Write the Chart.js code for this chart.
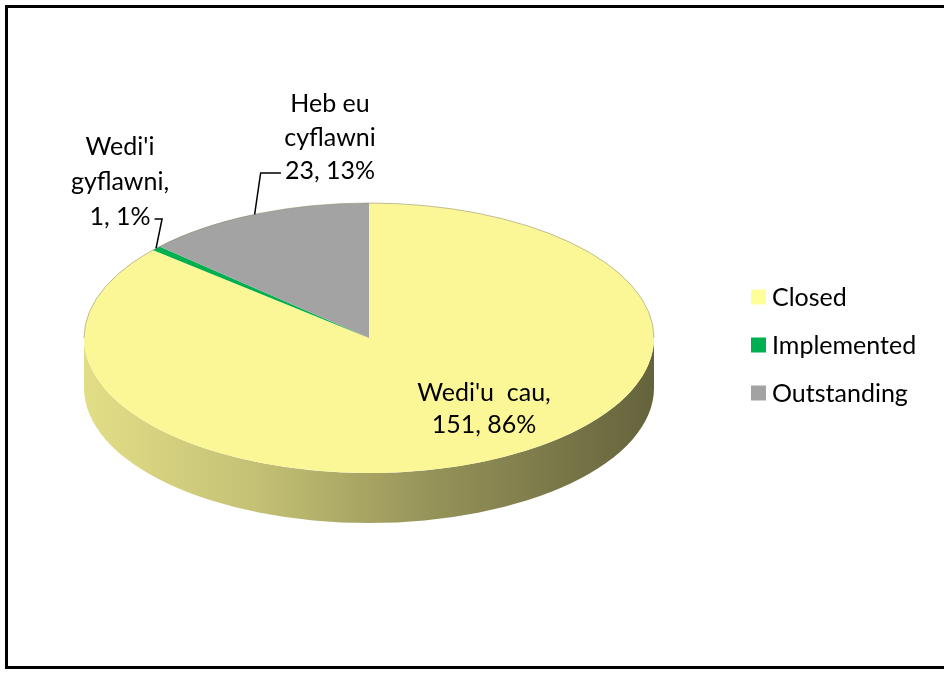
<!DOCTYPE html>
<html>
<head>
<meta charset="utf-8">
<script src="https://cdn.jsdelivr.net/npm/chart.js@4.4.1/dist/chart.umd.min.js"></script>
<style>
  html, body { margin: 0; padding: 0; background: #fff; }
  canvas { display: block; }
</style>
</head>
<body>
<canvas id="myChart" width="944" height="673"></canvas>
<script>
// data
const categories = ['Closed', 'Implemented', 'Outstanding'];
const welshNames = [["Wedi'u  cau,"], ["Wedi'i", "gyflawni,"], ["Heb eu", "cyflawni"]];
const counts = [151, 1, 23];
const colours = ['#FBF796', '#00B050', '#A3A3A3'];

// label placement (centre x, first line y, line height)
const labelPos = [
  { x: 484, y: 393, lh: 32 },
  { x: 120, y: 147, lh: 35 },
  { x: 330, y: 104, lh: 33.5 }
];

const squash = 135 / 285;   // vertical tilt of the pie
const depth = 50;           // thickness of the 3d side
const FONT = '25px Lato, "Liberation Sans", sans-serif';

function shade(hex, f) {
  const n = parseInt(hex.slice(1), 16);
  const r = Math.round(((n >> 16) & 255) * f);
  const g = Math.round(((n >> 8) & 255) * f);
  const b = Math.round((n & 255) * f);
  return 'rgb(' + r + ',' + g + ',' + b + ')';
}

const pie3d = {
  id: 'pie3d',
  beforeDraw(chart) {
    const ctx = chart.ctx;
    ctx.save();
    ctx.fillStyle = '#000';
    ctx.fillRect(5, 5, 3, 664);      // left
    ctx.fillRect(5, 5, 939, 3);      // top
    ctx.fillRect(5, 666, 939, 3);    // bottom
    ctx.restore();
  },
  beforeDatasetsDraw(chart) {
    const ctx = chart.ctx;
    const meta = chart.getDatasetMeta(0);
    const a0 = meta.data[0];
    const cx = a0.x, cy = a0.y, r = a0.outerRadius, ry = r * squash;
    meta.data.forEach((arc, i) => {
      const a = Math.max(arc.startAngle, 0);
      const b = Math.min(arc.endAngle, Math.PI);
      if (a >= b) return;
      const g = ctx.createLinearGradient(cx - r, 0, cx + r, 0);
      g.addColorStop(0, shade(colours[i], 0.9));
      g.addColorStop(0.3, shade(colours[i], 0.78));
      g.addColorStop(0.6, shade(colours[i], 0.6));
      g.addColorStop(1, shade(colours[i], 0.4));
      ctx.beginPath();
      ctx.ellipse(cx, cy, r, ry, 0, a, b);
      ctx.ellipse(cx, cy + depth, r, ry, 0, b, a, true);
      ctx.closePath();
      ctx.fillStyle = g;
      ctx.fill();
    });
    ctx.save();
    ctx.translate(cx, cy);
    ctx.scale(1, squash);
    ctx.translate(-cx, -cy);
  },
  afterDatasetsDraw(chart) {
    const ctx = chart.ctx;
    ctx.restore();
    const meta = chart.getDatasetMeta(0);
    const a0 = meta.data[0];
    const cx = a0.x, cy = a0.y, r = a0.outerRadius, ry = r * squash;

    // faint outline of the top face
    ctx.save();
    ctx.strokeStyle = 'rgba(140,140,110,0.55)';
    ctx.lineWidth = 1;
    ctx.beginPath();
    ctx.ellipse(cx, cy, r, ry, 0, Math.PI, 2 * Math.PI);
    ctx.stroke();
    ctx.restore();

    const total = counts.reduce((s, v) => s + v, 0);
    ctx.save();
    ctx.font = FONT;
    ctx.fillStyle = '#000';
    ctx.textAlign = 'center';
    ctx.textBaseline = 'middle';
    meta.data.forEach((arc, i) => {
      const p = labelPos[i];
      const lines = welshNames[i].concat([counts[i] + ', ' + Math.round(counts[i] / total * 100) + '%']);
      lines.forEach((t, j) => ctx.fillText(t, p.x, p.y + j * p.lh));
      if (i === 0) return;
      // leader line to the slice edge
      const m = (arc.startAngle + arc.endAngle) / 2;
      const ax = cx + r * Math.cos(m), ay = cy + ry * Math.sin(m);
      const ly = p.y + (lines.length - 1) * p.lh + 2;
      const w = ctx.measureText(lines[lines.length - 1]).width;
      const tx = ax > p.x ? p.x + w / 2 + 4 : p.x - w / 2 - 4;
      ctx.beginPath();
      ctx.moveTo(tx, ly);
      ctx.lineTo(ax + 6, ly);
      ctx.lineTo(ax, ay);
      ctx.strokeStyle = '#000';
      ctx.lineWidth = 1.5;
      ctx.stroke();
    });

    // legend
    ctx.textAlign = 'left';
    categories.forEach((c, i) => {
      const y = 297 + i * 48;
      ctx.fillStyle = i === 0 ? '#FFFF99' : colours[i];
      ctx.fillRect(751, y - 7.5, 15, 15);
      ctx.fillStyle = '#000';
      ctx.fillText(c, 772, y + 1);
    });
    ctx.restore();
  }
};

const config = {
  type: 'pie',
  data: {
    labels: categories,
    datasets: [{
      data: counts,
      backgroundColor: colours,
      borderWidth: 0,
      clip: false
    }]
  },
  options: {
    responsive: false,
    animation: false,
    events: [],
    layout: { padding: { left: 84, right: 290, top: 53, bottom: 50 } },
    plugins: {
      legend: { display: false },
      tooltip: { enabled: false }
    }
  },
  plugins: [pie3d]
};

const myChart = new Chart(document.getElementById('myChart'), config);
</script>
</body>
</html>
